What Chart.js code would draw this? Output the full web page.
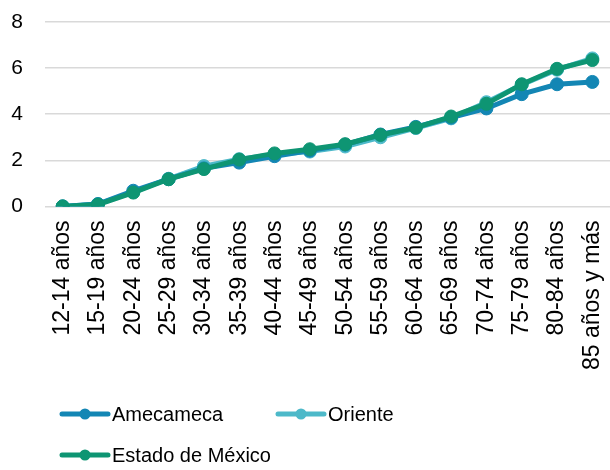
<!DOCTYPE html>
<html>
<head>
<meta charset="utf-8">
<script src="https://cdn.jsdelivr.net/npm/chart.js@4"></script>
<style>
  html, body { margin: 0; padding: 0; background: #fff; }
  #wrap { width: 610px; height: 470px; }
</style>
</head>
<body>
<div id="wrap"><canvas id="chart" width="610" height="470"></canvas></div>
<script>
// age groups on the x axis
var ageGroups = ['12-14 años', '15-19 años', '20-24 años', '25-29 años', '30-34 años',
  '35-39 años', '40-44 años', '45-49 años', '50-54 años', '55-59 años', '60-64 años',
  '65-69 años', '70-74 años', '75-79 años', '80-84 años', '85 años y más'];

var amecameca = [0, 0.1, 0.68, 1.18, 1.65, 1.9, 2.18, 2.42, 2.68, 3.12, 3.45, 3.85, 4.25, 4.87, 5.3, 5.4];
var oriente = [0, 0.1, 0.62, 1.2, 1.75, 2.05, 2.25, 2.38, 2.6, 3.0, 3.4, 3.82, 4.52, 5.28, 5.93, 6.42];
var estadoMexico = [0, 0.08, 0.6, 1.18, 1.62, 2.03, 2.3, 2.48, 2.7, 3.1, 3.42, 3.9, 4.45, 5.3, 5.97, 6.35];

var yTicks = [0, 2, 4, 6, 8];

var seriesNames = ['Amecameca', 'Oriente', 'Estado de México'];
var seriesColors = ['#1386b4', '#4db9c9', '#0e9573'];

var FONT = '"Liberation Sans", Arial, sans-serif';

function lineSet(label, data, color, order) {
  return {
    label: label,
    data: data,
    borderColor: color,
    backgroundColor: color,
    borderWidth: 5,
    pointRadius: 6.5,
    pointBorderWidth: 1,
    pointBorderColor: color,
    pointBackgroundColor: color,
    tension: 0,
    order: order
  };
}

// legend in two columns, like the excel one
var columnLegend = {
  id: 'columnLegend',
  afterDraw: function(chart) {
    var ctx = chart.ctx;
    var rows = [[0, 1], [2]];
    var x0 = 62, colW = 216, rowY = [414, 455];
    ctx.save();
    ctx.font = '20px ' + FONT;
    ctx.textBaseline = 'middle';
    rows.forEach(function(row, r) {
      row.forEach(function(idx, c) {
        var x = x0 + c * colW, y = rowY[r];
        ctx.strokeStyle = seriesColors[idx];
        ctx.fillStyle = seriesColors[idx];
        ctx.lineWidth = 5;
        ctx.lineCap = 'round';
        ctx.beginPath();
        ctx.moveTo(x, y);
        ctx.lineTo(x + 46, y);
        ctx.stroke();
        ctx.beginPath();
        ctx.arc(x + 23, y, 5.5, 0, Math.PI * 2);
        ctx.fill();
        ctx.fillStyle = '#000';
        ctx.fillText(seriesNames[idx], x + 50, y + 1);
      });
    });
    ctx.restore();
  }
};

new Chart(document.getElementById('chart'), {
  type: 'line',
  data: {
    labels: ageGroups,
    datasets: [
      lineSet(seriesNames[0], amecameca, seriesColors[0], 1),
      lineSet(seriesNames[1], oriente, seriesColors[1], 2),
      lineSet(seriesNames[2], estadoMexico, seriesColors[2], 0)
    ]
  },
  options: {
    responsive: false,
    animation: false,
    devicePixelRatio: 1,
    layout: { autoPadding: false, padding: { left: 10, top: 22, right: 0, bottom: 86 } },
    plugins: {
      legend: { display: false },
      tooltip: { enabled: false }
    },
    scales: {
      x: {
        offset: true,
        grid: { display: false, drawTicks: false },
        border: { display: false },
        afterFit: function(axis) {
          axis.paddingLeft = 0;
          axis.paddingRight = 0;
        },
        ticks: {
          minRotation: 90,
          maxRotation: 90,
          autoSkip: false,
          padding: 14,
          color: '#000',
          font: { family: FONT, size: 23 }
        }
      },
      y: {
        min: 0,
        max: 8,
        afterBuildTicks: function(axis) {
          axis.ticks = yTicks.map(function(v) { return { value: v }; });
        },
        afterFit: function(axis) {
          axis.width = 35;
          axis.paddingTop = 0;
          axis.paddingBottom = 0;
        },
        grid: { color: '#d9d9d9', lineWidth: 1.5, drawTicks: false },
        border: { display: false },
        ticks: {
          padding: 22,
          color: '#000',
          font: { family: FONT, size: 21 }
        }
      }
    }
  },
  plugins: [columnLegend]
});
</script>
</body>
</html>
